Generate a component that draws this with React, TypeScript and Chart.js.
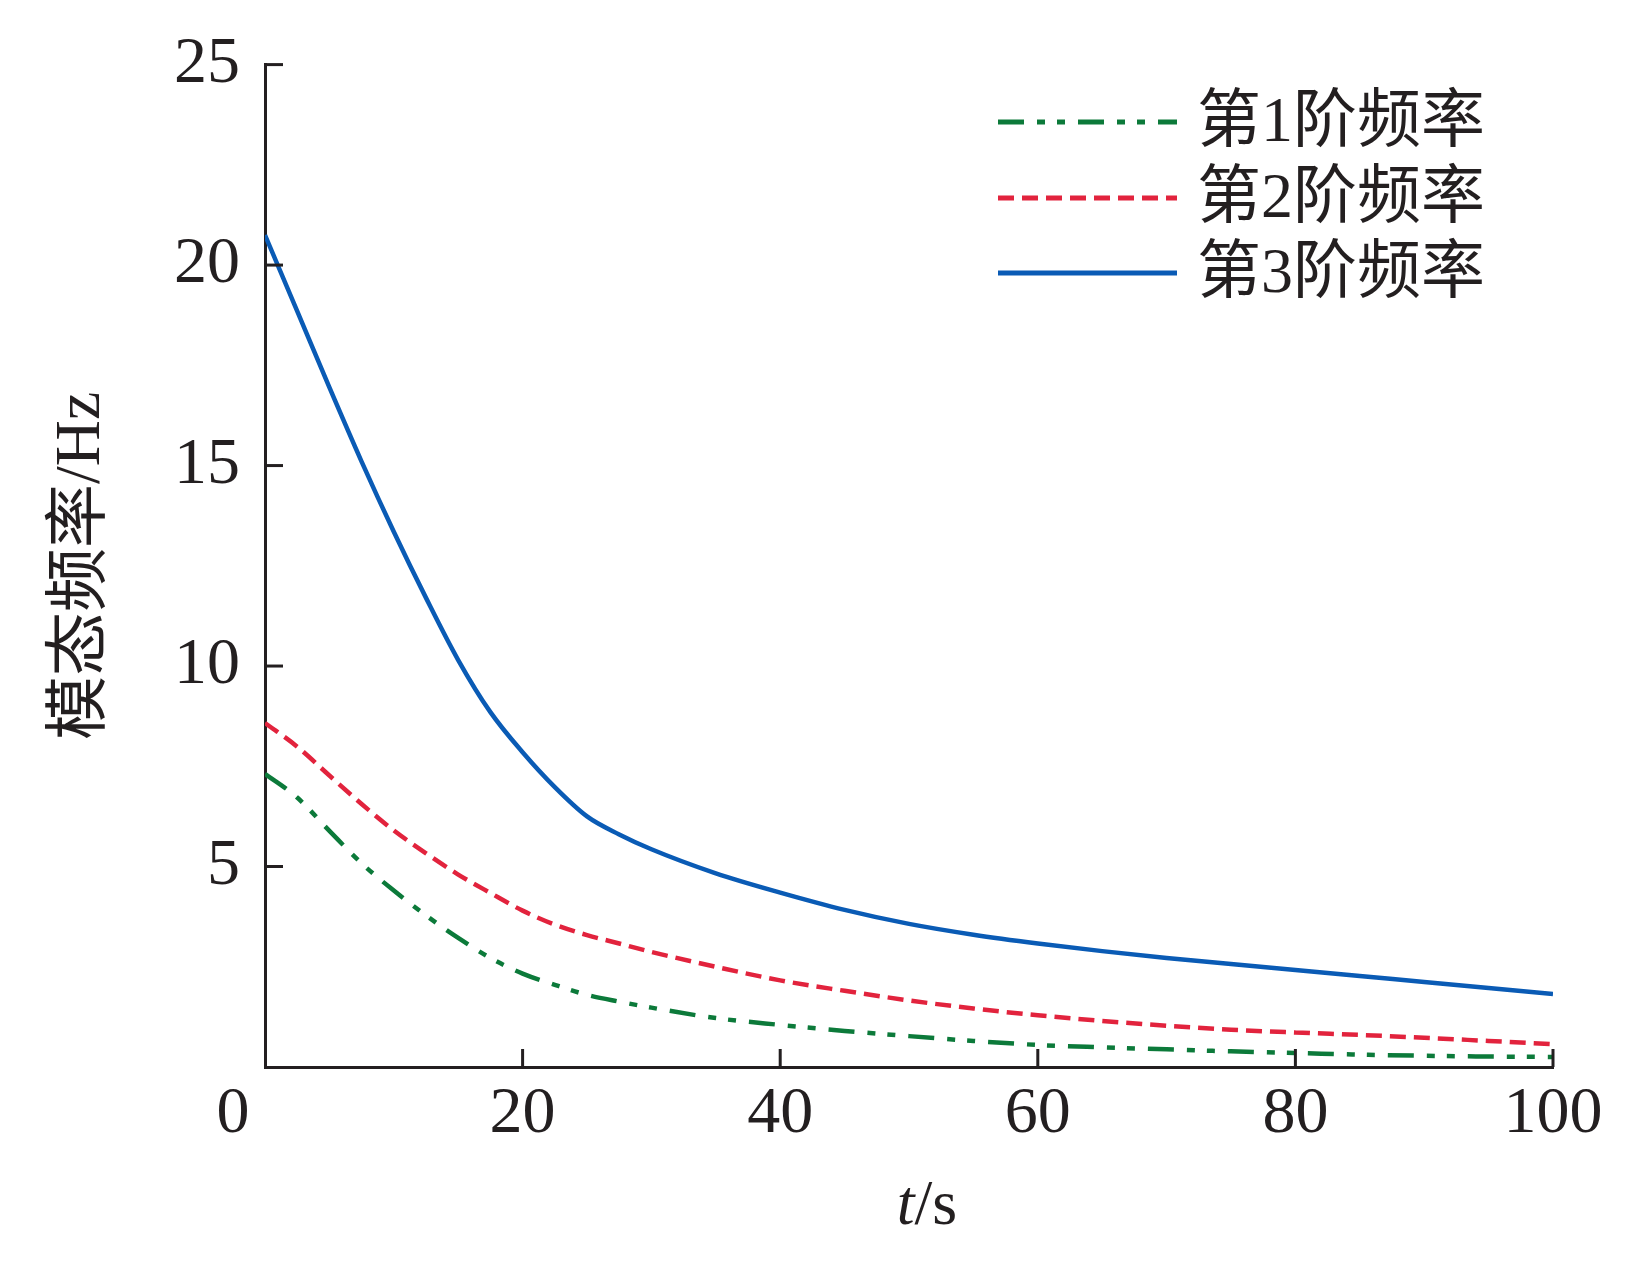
import { useEffect, useRef } from 'react'
import { Chart, registerables } from 'chart.js'

Chart.register(...registerables)

// time axis (s) shared by the three curves
const times = [0, 2.5, 5, 7.5, 10, 12.5, 15, 17.5, 20, 22.5, 25, 27.5, 30, 35, 40, 45, 50, 55, 60, 65, 70, 75, 80, 85, 90, 95, 100]
// modal frequencies (Hz)
const mode1 = [7.31, 6.72, 5.89, 5.08, 4.4, 3.78, 3.22, 2.72, 2.33, 2.05, 1.8, 1.63, 1.48, 1.22, 1.05, 0.9, 0.77, 0.65, 0.55, 0.49, 0.44, 0.39, 0.35, 0.31, 0.28, 0.26, 0.25]
const mode2 = [8.58, 7.99, 7.27, 6.56, 5.9, 5.33, 4.8, 4.34, 3.9, 3.55, 3.29, 3.08, 2.87, 2.5, 2.16, 1.9, 1.66, 1.46, 1.29, 1.15, 1.03, 0.93, 0.86, 0.8, 0.73, 0.65, 0.57]
const mode3 = [20.75, 18.85, 16.95, 15.1, 13.35, 11.7, 10.15, 8.85, 7.85, 6.98, 6.25, 5.8, 5.43, 4.83, 4.35, 3.92, 3.57, 3.3, 3.08, 2.89, 2.72, 2.57, 2.42, 2.27, 2.12, 1.97, 1.82]

const seriesNames = ['第1阶频率', '第2阶频率', '第3阶频率']
const xTicks = [0, 20, 40, 60, 80, 100]
const yTicks = [0, 5, 10, 15, 20, 25]
const yTitle = '模态频率/Hz'

const INK = '#231f20'
const SERIF = '"Liberation Serif", "Noto Sans CJK SC", serif'
const COLORS = ['#0c7a3a', '#e2233d', '#0a5bb5']
const DASHES = [[26, 13, 8, 12, 8, 13], [16, 8], []]
const TICK_FONT = 66
const X_LABEL_PAD = 8

// inward tick marks, shared origin label, x title and the legend
const axisExtras = {
  id: 'axisExtras',
  afterDraw(chart: any) {
    const { ctx, chartArea, scales } = chart
    const xs = scales.x
    const ys = scales.y
    ctx.save()
    ctx.strokeStyle = INK
    ctx.lineWidth = 3
    yTicks.forEach((v) => {
      if (v === 0) return
      const py = ys.getPixelForValue(v)
      ctx.beginPath()
      ctx.moveTo(chartArea.left, py)
      ctx.lineTo(chartArea.left + 18, py)
      ctx.stroke()
    })
    xTicks.forEach((v) => {
      if (v === 0) return
      const px = xs.getPixelForValue(v)
      ctx.beginPath()
      ctx.moveTo(px, chartArea.bottom)
      ctx.lineTo(px, chartArea.bottom - 18)
      ctx.stroke()
    })

    ctx.fillStyle = INK
    ctx.font = `${TICK_FONT}px ${SERIF}`
    ctx.textAlign = 'center'
    ctx.textBaseline = 'middle'
    ctx.fillText('0', xs.getPixelForValue(0) - 32, xs.top + X_LABEL_PAD + TICK_FONT * 0.6)

    // x title: italic t + /s
    ctx.textAlign = 'left'
    ctx.textBaseline = 'alphabetic'
    ctx.font = `italic 64px ${SERIF}`
    const wT = ctx.measureText('t').width
    ctx.font = `64px ${SERIF}`
    const wS = ctx.measureText('/s').width
    const cx = (chartArea.left + chartArea.right) / 2 + 18
    const by = chartArea.bottom + 157
    ctx.font = `italic 64px ${SERIF}`
    ctx.fillText('t', cx - (wT + wS) / 2, by)
    ctx.font = `64px ${SERIF}`
    ctx.fillText('/s', cx - (wT + wS) / 2 + wT, by)

    // legend
    const lx0 = 998
    const lx1 = 1177
    const ly = [122, 198, 273]
    seriesNames.forEach((name, i) => {
      ctx.strokeStyle = COLORS[i]
      ctx.lineWidth = 5
      ctx.lineCap = 'butt'
      ctx.setLineDash(DASHES[i])
      ctx.beginPath()
      ctx.moveTo(lx0, ly[i])
      ctx.lineTo(lx1, ly[i])
      ctx.stroke()
      ctx.setLineDash([])
      ctx.fillStyle = INK
      ctx.font = `64px ${SERIF}`
      ctx.textBaseline = 'middle'
      ctx.fillText(name, 1197, ly[i] + 2)
    })
    ctx.restore()
  },
}

function FrequencyChart() {
  const canvasRef = useRef<HTMLCanvasElement>(null)
  const chartRef = useRef<Chart | null>(null)

  useEffect(() => {
    if (!canvasRef.current) return
    chartRef.current?.destroy()

    const series = [mode1, mode2, mode3]
    chartRef.current = new Chart(canvasRef.current, {
      type: 'line',
      data: {
        datasets: series.map((vals, i) => ({
          label: seriesNames[i],
          data: times.map((t, j) => ({ x: t, y: vals[j] })),
          borderColor: COLORS[i],
          backgroundColor: COLORS[i],
          borderWidth: 4.5,
          borderDash: DASHES[i],
          pointRadius: 0,
          cubicInterpolationMode: 'monotone',
          fill: false,
        })),
      },
      options: {
        animation: false,
        responsive: true,
        maintainAspectRatio: false,
        layout: { padding: { top: 62, right: 82, left: 0, bottom: 0 } },
        plugins: {
          legend: { display: false },
          tooltip: { enabled: false },
        },
        scales: {
          x: {
            type: 'linear',
            min: 0,
            max: 100,
            afterBuildTicks: (s: any) => { s.ticks = xTicks.map((v) => ({ value: v })) },
            afterFit: (s: any) => { s.height = 196 },
            grid: { display: false, drawTicks: false },
            border: { display: true, color: INK, width: 3 },
            ticks: {
              color: INK,
              padding: X_LABEL_PAD,
              maxRotation: 0,
              font: { size: TICK_FONT, family: SERIF },
              callback: (v: any) => (v === 0 ? '' : String(v)),
            },
          },
          y: {
            type: 'linear',
            min: 0,
            max: 25,
            afterBuildTicks: (s: any) => { s.ticks = yTicks.map((v) => ({ value: v })) },
            afterFit: (s: any) => { s.width = 265 },
            grid: { display: false, drawTicks: false },
            border: { display: true, color: INK, width: 3 },
            ticks: {
              color: INK,
              padding: 25,
              font: { size: TICK_FONT, family: SERIF },
              callback: (v: any) => (v === 0 ? '' : String(v)),
            },
            title: {
              display: true,
              text: yTitle,
              color: INK,
              font: { size: 64, family: SERIF },
              padding: { top: 44, bottom: 0 },
            },
          },
        },
      },
      plugins: [axisExtras],
    } as any)

    return () => { chartRef.current?.destroy() }
  }, [])

  return (
    <div style={{ position: 'relative', width: 1635, height: 1263, background: '#fff' }}>
      <canvas ref={canvasRef} />
    </div>
  )
}

export default function App() {
  useEffect(() => {
    document.body.style.margin = '0'
  }, [])
  return <FrequencyChart />
}
